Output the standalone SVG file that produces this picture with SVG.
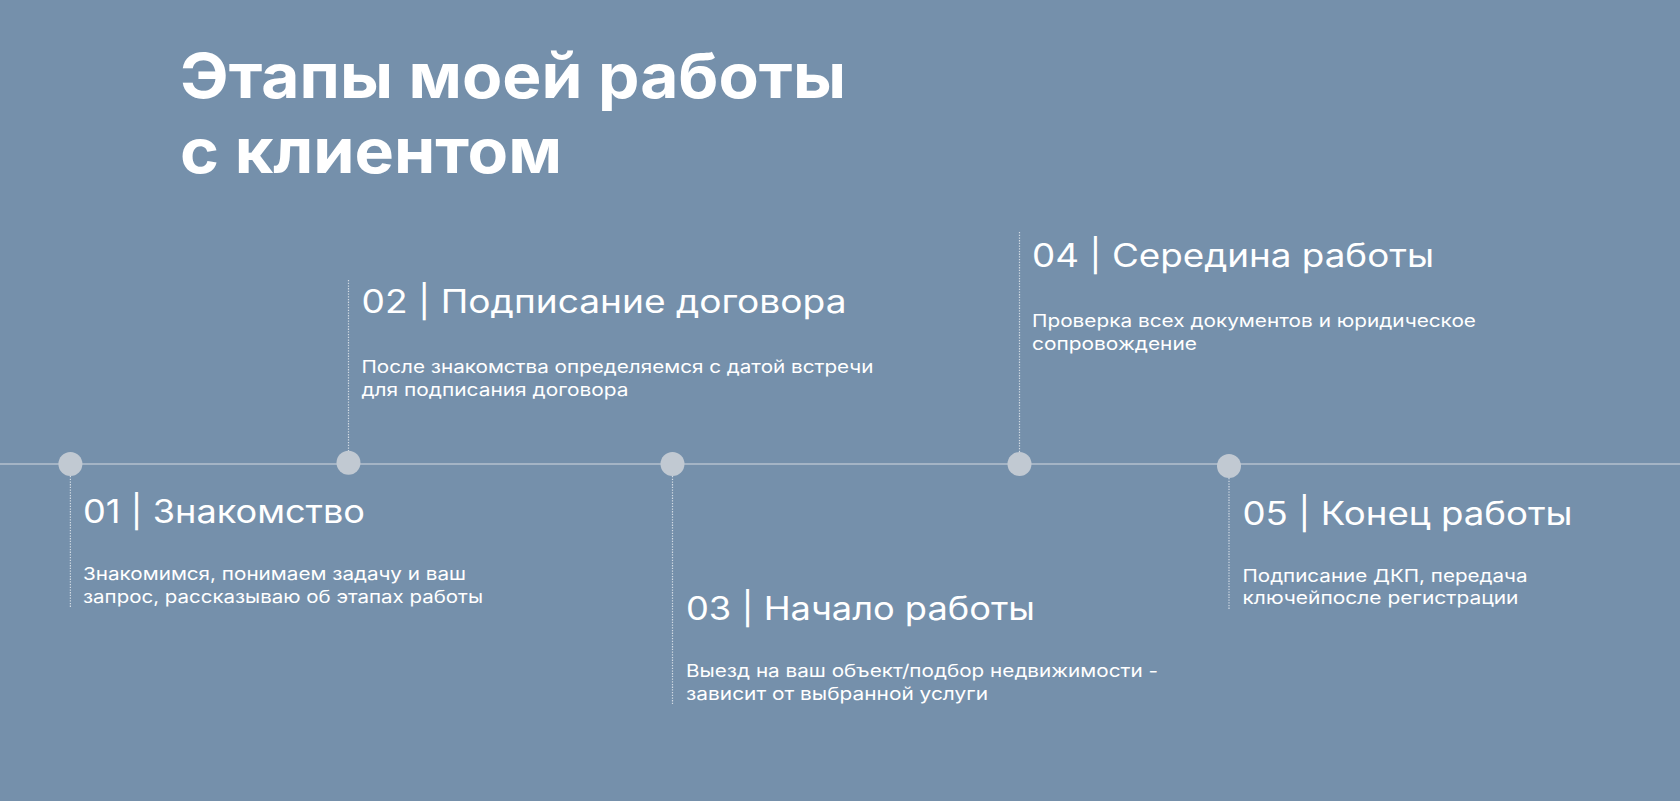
<svg xmlns="http://www.w3.org/2000/svg" width="1680" height="801" viewBox="0 0 1680 801">
<style>
.bg{fill:#7590ab}
.title{font-family:Inter,"Open Sans","Noto Sans",sans-serif;font-weight:700;font-size:62px;fill:#ffffff}
.head{font-family:Inter,"Open Sans","Noto Sans",sans-serif;font-weight:400;font-size:32px;fill:#ffffff}
.body{font-family:Inter,"Open Sans","Noto Sans",sans-serif;font-weight:400;font-size:17.5px;fill:#ffffff}
.dot{fill:#c1c9d2}
.axis{stroke:#a4b4c5;stroke-width:2;fill:none}
.lead{stroke:#d3dbe4;stroke-width:1.2;stroke-dasharray:1.3 1.4;fill:none}
</style>
<rect class="bg" x="0" y="0" width="1680" height="801"/>
<g id="title">
<text class="title" x="180" y="98" textLength="666" lengthAdjust="spacingAndGlyphs">Этапы моей работы</text>
<text class="title" x="180" y="173" textLength="382" lengthAdjust="spacingAndGlyphs">с клиентом</text>
</g>
<g id="connectors">
<line class="axis" x1="0" y1="464" x2="1680" y2="464"/>
<line class="lead" x1="70.4" y1="476" x2="70.4" y2="608"/>
<line class="lead" x1="348.5" y1="280" x2="348.5" y2="451"/>
<line class="lead" x1="672.5" y1="476" x2="672.5" y2="705"/>
<line class="lead" x1="1019.5" y1="232" x2="1019.5" y2="452"/>
<line class="lead" x1="1229" y1="478" x2="1229" y2="610"/>
</g>
<g id="step01">
<circle class="dot" cx="70.4" cy="464" r="12"/>
<text class="head" x="83" y="523" textLength="282" lengthAdjust="spacingAndGlyphs">01 | Знакомство</text>
<text class="body" x="83" y="579.5" textLength="383" lengthAdjust="spacingAndGlyphs">Знакомимся, понимаем задачу и ваш</text>
<text class="body" x="83" y="602.5" textLength="400" lengthAdjust="spacingAndGlyphs">запрос, рассказываю об этапах работы</text>
</g>
<g id="step02">
<circle class="dot" cx="348.5" cy="462.8" r="12"/>
<text class="head" x="361.5" y="313.3" textLength="485" lengthAdjust="spacingAndGlyphs">02 | Подписание договора</text>
<text class="body" x="361.5" y="373.3" textLength="512" lengthAdjust="spacingAndGlyphs">После знакомства определяемся с датой встречи</text>
<text class="body" x="361.5" y="396" textLength="267" lengthAdjust="spacingAndGlyphs">для подписания договора</text>
</g>
<g id="step03">
<circle class="dot" cx="672.5" cy="464" r="12"/>
<text class="head" x="686" y="620" textLength="349" lengthAdjust="spacingAndGlyphs">03 | Начало работы</text>
<text class="body" x="686" y="677.3" textLength="472" lengthAdjust="spacingAndGlyphs">Выезд на ваш объект/подбор недвижимости -</text>
<text class="body" x="686" y="699.5" textLength="302" lengthAdjust="spacingAndGlyphs">зависит от выбранной услуги</text>
</g>
<g id="step04">
<circle class="dot" cx="1019.5" cy="464" r="12"/>
<text class="head" x="1032" y="266.7" textLength="402" lengthAdjust="spacingAndGlyphs">04 | Середина работы</text>
<text class="body" x="1032" y="327.3" textLength="444" lengthAdjust="spacingAndGlyphs">Проверка всех документов и юридическое</text>
<text class="body" x="1032" y="349.5" textLength="165" lengthAdjust="spacingAndGlyphs">сопровождение</text>
</g>
<g id="step05">
<circle class="dot" cx="1229" cy="466" r="12"/>
<text class="head" x="1242.5" y="525" textLength="330" lengthAdjust="spacingAndGlyphs">05 | Конец работы</text>
<text class="body" x="1242.5" y="581.7" textLength="285" lengthAdjust="spacingAndGlyphs">Подписание ДКП, передача</text>
<text class="body" x="1242.5" y="603.5" textLength="276" lengthAdjust="spacingAndGlyphs">ключейпосле регистрации</text>
</g>
</svg>
